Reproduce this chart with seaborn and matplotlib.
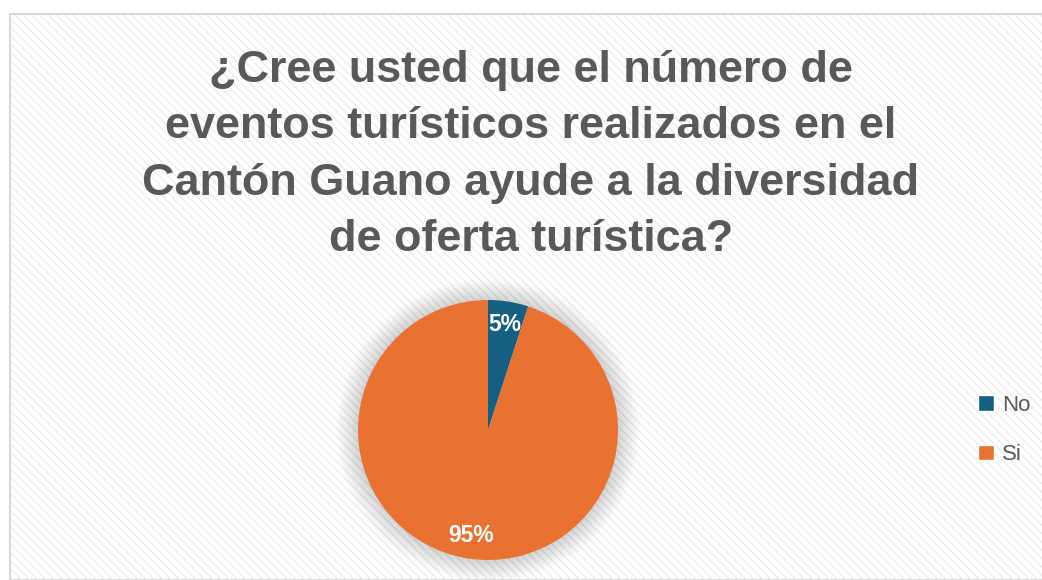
import matplotlib
matplotlib.use("Agg")
import matplotlib.pyplot as plt
from matplotlib.patches import Rectangle, Circle
import seaborn as sns

categories = ["No", "Si"]
values = [5, 95]
colors = ["#156082", "#E97132"]
title = "¿Cree usted que el número de\neventos turísticos realizados en el\nCantón Guano ayude a la diversidad\nde oferta turística?"

sns.set_theme(style="white")
plt.rcParams['font.family'] = ['Liberation Sans', 'DejaVu Sans']
plt.rcParams['hatch.color'] = "#ececec"

W, H = 1042, 580
fig = plt.figure(figsize=(W/100, H/100), dpi=100)
fig.patch.set_facecolor("white")

bg = Rectangle((10/W, 0), 1.0, (H-14)/H, transform=fig.transFigure,
               facecolor="white", edgecolor="#d9d9d9", linewidth=1.5, zorder=0)
fig.add_artist(bg)
hatch = Rectangle((11/W, 0), 1.0, (H-15)/H, transform=fig.transFigure,
                  facecolor="none", edgecolor="#ececec", linewidth=0, hatch="\\\\\\\\", zorder=0)
fig.add_artist(hatch)

fig.text(531/W, 1 - 155/H, title, ha="center", va="center", fontsize=32.4,
         fontweight="bold", color="#595959", linespacing=1.47)

cx, cy, r = 488, 430, 130
ax = fig.add_axes([(cx-r)/W, (H-cy-r)/H, 2*r/W, 2*r/H])
for i in range(8):
    ax.add_patch(Circle((0, 0), 1.0 + 0.02*(i+1), color="black", alpha=0.018,
                        lw=0, zorder=0, clip_on=False))
wedges, texts, autotexts = ax.pie(values, colors=colors, startangle=90, counterclock=False,
                                  autopct="%1.0f%%", pctdistance=0.82,
                                  textprops=dict(color="white", fontsize=16.5, fontweight="bold"),
                                  wedgeprops=dict(linewidth=0))
ax.set_xlim(-1, 1); ax.set_ylim(-1, 1)
ax.set_aspect("equal")
ax.axis("off")

handles = [Rectangle((0, 0), 1, 1, facecolor=c) for c in colors]
fig.legend(handles, categories, loc="center left", bbox_to_anchor=(958/W, 1 - 430/H),
           frameon=False, fontsize=16, handlelength=0.7, handleheight=0.7,
           labelspacing=1.3, handletextpad=0.4, labelcolor="#595959")

fig.savefig("out.png", dpi=100)
